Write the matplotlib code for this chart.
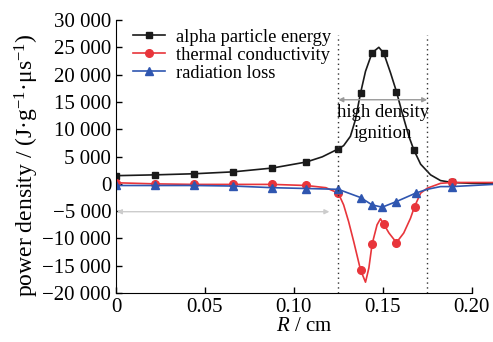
import matplotlib
matplotlib.use("Agg")
import matplotlib.pyplot as plt

plt.rcParams['font.family'] = ['Liberation Serif', 'DejaVu Serif']
plt.rcParams['mathtext.fontset'] = 'custom'
plt.rcParams['mathtext.rm'] = 'Liberation Serif'
plt.rcParams['mathtext.it'] = 'Liberation Serif:italic'

# alpha particle energy (line points)
alpha_x = [0, 0.022, 0.044, 0.066, 0.088, 0.107, 0.116, 0.125, 0.128, 0.1318,
           0.1346, 0.1375, 0.1403, 0.144, 0.1478, 0.1506, 0.1544, 0.1577,
           0.161, 0.1647, 0.1675, 0.1713, 0.1769, 0.1825, 0.189, 0.200, 0.212]
alpha_y = [1500, 1650, 1850, 2200, 2900, 4000, 4950, 6400, 7000, 8700,
           11700, 16600, 20600, 24000, 25000, 23900, 20300, 16900,
           12900, 8700, 6200, 3600, 1650, 600, 250, 100, 50]
alpha_marks = [0, 1, 2, 3, 4, 5, 7, 11, 13, 15, 17, 20, 24]

# thermal conductivity
therm_x = [0, 0.022, 0.044, 0.066, 0.088, 0.107, 0.118, 0.125, 0.128, 0.1308,
           0.1337, 0.1375, 0.1403, 0.1422, 0.144, 0.1468, 0.1487, 0.1506,
           0.1535, 0.1577, 0.1618, 0.1656, 0.1679, 0.1713, 0.175, 0.1825,
           0.189, 0.200, 0.212]
therm_y = [200, 0, -100, -100, -100, -300, -700, -1700, -3850, -6900,
           -10600, -15750, -18000, -15400, -11050, -7500, -6400, -7400,
           -9000, -10750, -9000, -6300, -4150, -1700, -800, 100,
           250, 250, 250]
therm_marks = [0, 1, 2, 3, 4, 5, 7, 11, 14, 17, 19, 22, 26]

# radiation loss
rad_x = [0, 0.022, 0.044, 0.066, 0.088, 0.107, 0.125, 0.1308, 0.1375, 0.144,
         0.1497, 0.1577, 0.1685, 0.175, 0.1825, 0.189, 0.212]
rad_y = [-300, -300, -300, -400, -700, -850, -1000, -1700, -2500, -3850,
         -4270, -3240, -1700, -1000, -500, -500, -100]
rad_marks = [0, 1, 2, 3, 4, 5, 6, 8, 9, 10, 11, 12, 15]

yticks = [-20000, -15000, -10000, -5000, 0, 5000, 10000, 15000, 20000, 25000, 30000]
ytick_labels = ['\u221220 000', '\u221215 000', '\u221210 000', '\u22125 000', '0',
                '5 000', '10 000', '15 000', '20 000', '25 000', '30 000']
xticks = [0, 0.05, 0.10, 0.15, 0.20]
xtick_labels = ['0', '0.05', '0.10', '0.15', '0.20']

fig = plt.figure(figsize=(4.93, 3.42), dpi=100)
ax = fig.add_axes([0.2353, 0.143, 0.7647, 0.7985])

ax.plot(alpha_x, alpha_y, color='#1a1a1a', lw=1.2, marker='s', ms=5,
        markevery=alpha_marks, label='alpha particle energy')
ax.plot(therm_x, therm_y, color='#e8353b', lw=1.2, marker='o', ms=5.5,
        markevery=therm_marks, label='thermal conductivity')
ax.plot(rad_x, rad_y, color='#2f56b0', lw=1.2, marker='^', ms=5.5,
        markevery=rad_marks, label='radiation loss')

# ignition region boundaries
for xv in [0.125, 0.175]:
    ax.plot([xv, xv], [-20000, 27300], color='#333333', lw=1, ls=(0, (1, 2.5)))

ax.annotate('', xy=(0.125, 15400), xytext=(0.175, 15400),
            arrowprops=dict(arrowstyle='<|-|>', color='#999999', lw=1,
                            mutation_scale=7, shrinkA=0, shrinkB=0))
ax.text(0.150, 11100, 'high density\nignition', ha='center', va='center',
        fontsize=13.5, linespacing=1.3)

ax.annotate('', xy=(0.0005, -5100), xytext=(0.120, -5100),
            arrowprops=dict(arrowstyle='<|-|>', color='#cccccc', lw=1,
                            mutation_scale=7, shrinkA=0, shrinkB=0))

ax.set_xlim(0, 0.212)
ax.set_ylim(-20000, 30000)
ax.set_xticks(xticks)
ax.set_xticklabels(xtick_labels)
ax.set_yticks(yticks)
ax.set_yticklabels(ytick_labels)
ax.tick_params(direction='in', length=4, labelsize=15, width=1)
ax.spines['top'].set_visible(False)
ax.spines['right'].set_visible(False)
ax.spines['bottom'].set_bounds(0, 0.20)

ax.set_xlabel('$R$ / cm', fontsize=15, labelpad=0)
ax.set_ylabel('power density / (J\u00b7g$^{-1}$\u00b7\u03bcs$^{-1}$)', fontsize=17)
ax.yaxis.set_label_coords(-0.20, 0.47)

ax.legend(loc='upper left', bbox_to_anchor=(0.025, 0.995), frameon=False,
          fontsize=13.3, handlelength=1.75, handletextpad=0.6, labelspacing=0.05,
          borderaxespad=0)

fig.savefig('out.png', dpi=100)
